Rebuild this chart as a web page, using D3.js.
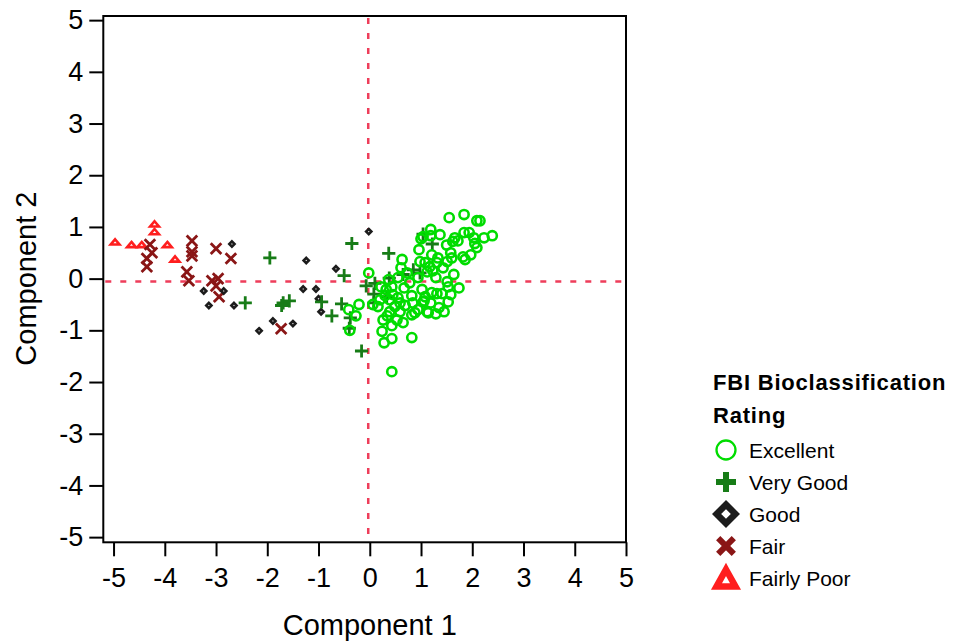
<!DOCTYPE html>
<html>
<head>
<meta charset="utf-8">
<script src="https://cdn.jsdelivr.net/npm/d3@7"></script>
<style>
  html, body { margin: 0; padding: 0; background: #fff; }
  svg { display: block; font-family: Arial, "Liberation Sans", sans-serif; }
</style>
</head>
<body>
<svg id="chart" width="953" height="644"></svg>
<script>
// Principal component scores, grouped by FBI bioclassification rating
const excellent = [
  [1.55,1.18],[1.84,1.24],[2.09,1.12],[2.15,1.12],[1.19,0.95],[1.00,0.77],[1.19,0.83],[1.37,0.85],
  [1.66,0.79],[1.72,0.73],[1.84,0.89],[1.94,0.89],[2.03,0.79],[2.05,0.68],[2.09,0.60],[2.23,0.79],
  [2.39,0.83],[1.97,0.46],[1.82,0.42],[1.86,0.37],[0.96,0.56],[1.21,0.46],[1.33,0.40],[1.31,0.31],
  [1.58,0.50],[1.60,0.40],[1.51,0.33],[1.08,0.31],[1.17,0.23],[1.12,0.13],[1.23,0.15],[1.29,0.02],
  [1.43,0.21],[1.64,0.08],[1.51,-0.06],[1.53,-0.16],[1.74,-0.18],[1.02,-0.21],[1.21,-0.27],[1.31,-0.29],
  [1.41,-0.29],[1.58,-0.31],[1.06,-0.43],[1.19,-0.47],[1.35,-0.56],[1.53,-0.45],[1.12,-0.64],[1.29,-0.68],
  [1.45,-0.64],[0.88,-0.66],[0.82,-1.14],[-0.02,0.11],[0.63,0.37],[0.61,0.21],[0.22,-0.16],[0.43,-0.16],
  [0.55,0.02],[0.73,0.11],[0.78,-0.08],[0.94,0.02],[1.08,-0.35],[1.04,-0.45],[0.45,-0.31],[0.55,-0.37],
  [0.59,-0.47],[0.49,-0.54],[0.16,-0.54],[0.06,-0.50],[0.39,-0.64],[0.82,-0.70],[0.26,-0.80],[0.53,-0.80],
  [0.65,-0.85],[0.24,-1.02],[0.43,-1.16],[0.28,-1.24],[0.43,-1.80],[1.14,-0.66],[0.98,0.33],[0.37,-0.02],
  [0.32,-0.21],[0.67,-0.18],[0.82,-0.33],[0.69,-0.52],[0.39,-0.41],[0.30,-0.33],[0.20,-0.41],[0.84,-0.47],
  [0.94,-0.60],[0.43,-0.91],[0.59,-0.64],[0.34,-0.72],[-0.41,-0.60],[-0.21,-0.50],[-0.27,-0.72],[-0.39,-1.00],
  [1.50,0.65],[1.62,0.72],[1.04,0.81]
];
const veryGood = [
  [-0.35,0.68],[-1.95,0.40],[-0.50,0.06],[-2.43,-0.47],[-1.69,-0.47],[-1.57,-0.43],[-0.94,-0.45],
  [-0.55,-0.49],[-0.74,-0.72],[-0.38,-0.76],[-0.40,-0.96],[-0.16,-1.40],[0.37,0.49],[-0.07,-0.14],
  [0.08,-0.30],[0.33,-0.35],[1.04,0.86],[1.22,0.67],[0.98,0.11],[0.65,0.08],[0.85,0.17],[0.10,-0.09],
  [0.38,0.01],[0.08,-0.47],[-1.72,-0.52]
];
const good = [
  [-2.69,0.67],[-3.24,-0.24],[-2.85,-0.24],[-3.14,-0.52],[-2.65,-0.52],[-2.16,-1.01],[-1.89,-0.82],
  [-1.50,-0.87],[-1.24,0.35],[-0.66,0.19],[-1.30,-0.20],[-1.05,-0.20],[-1.00,-0.39],[-0.95,-0.64],
  [-0.02,0.91]
];
const fair = [
  [-4.29,0.66],[-4.25,0.50],[-4.35,0.39],[-4.35,0.23],[-3.47,0.73],[-3.47,0.52],[-3.47,0.44],
  [-3.57,0.13],[-3.53,-0.04],[-3.00,0.58],[-2.71,0.39],[-3.08,-0.04],[-2.96,0.00],[-3.00,-0.14],
  [-2.94,-0.35],[-1.73,-0.97]
];
const fairlyPoor = [
  [-4.97,0.71],[-4.65,0.66],[-4.45,0.66],[-4.20,1.06],[-4.20,0.91],[-3.95,0.66],[-3.80,0.38]
];

// Reference lines (mean of each component)
const meanX = -0.03;
const meanY = -0.055;

const tickValues = [-5, -4, -3, -2, -1, 0, 1, 2, 3, 4, 5];
const ratingNames = ["Excellent", "Very Good", "Good", "Fair", "Fairly Poor"];
const legendTitle = ["FBI Bioclassification", "Rating"];
const axisTitles = { x: "Component 1", y: "Component 2" };

const svg = d3.select("#chart");
const plot = { left: 103.3, right: 626, top: 16, bottom: 542.3 };

const x = d3.scaleLinear().domain([-5.2, 5]).range([plot.left, plot.right]);
const y = d3.scaleLinear().domain([-5.1, 5.08]).range([plot.bottom, plot.top]);

// Marker shapes, centred on 0,0
const shapes = {
  circle: r => `M${-r},0a${r},${r} 0 1,0 ${2*r},0a${r},${r} 0 1,0 ${-2*r},0Z`,
  plus: s => `M${-s},0H${s}M0,${-s}V${s}`,
  cross: s => `M${-s},${-s}L${s},${s}M${-s},${s}L${s},${-s}`,
  diamond: s => `M0,${-s}L${s},0L0,${s}L${-s},0Z`,
  triangle: (w, h) => `M0,${-h}L${w},${h}L${-w},${h}Z`
};

const series = [
  { name: ratingNames[0], data: excellent, color: "#00dc00",
    plot: { d: shapes.circle(4.6), fill: "none", sw: 2.6 },
    legend: { d: shapes.circle(9.5), fill: "none", sw: 2.3 } },
  { name: ratingNames[1], data: veryGood, color: "#177c17",
    plot: { d: shapes.plus(6.6), fill: "none", sw: 2.8 },
    legend: { d: shapes.plus(10), fill: "none", sw: 6 } },
  { name: ratingNames[2], data: good, color: "#1c1c1c",
    plot: { d: shapes.diamond(2.6), fill: "#fff", sw: 2.6 },
    legend: { d: shapes.diamond(9.4), fill: "#fff", sw: 6.5 } },
  { name: ratingNames[3], data: fair, color: "#8a1616",
    plot: { d: shapes.cross(5.3), fill: "none", sw: 2.8 },
    legend: { d: shapes.cross(7.8), fill: "none", sw: 6 } },
  { name: ratingNames[4], data: fairlyPoor, color: "#ff1e1e",
    plot: { d: shapes.triangle(4.4, 2.6), fill: "#fff", sw: 2.6 },
    legend: { d: shapes.triangle(9.5, 8.5), fill: "#fff", sw: 6.5 } }
];

// Mean reference lines
const refColor = "#ee3d5a";
svg.append("line")
  .attr("x1", plot.left + 2).attr("x2", plot.right)
  .attr("y1", y(meanY)).attr("y2", y(meanY))
  .attr("stroke", refColor).attr("stroke-width", 2.5).attr("stroke-dasharray", "6,9");
svg.append("line")
  .attr("x1", x(meanX)).attr("x2", x(meanX))
  .attr("y1", plot.top + 2).attr("y2", plot.bottom)
  .attr("stroke", refColor).attr("stroke-width", 2.5).attr("stroke-dasharray", "6,9");

// Points, drawn from the last rating to the first
const marks = svg.append("g");
series.slice().reverse().forEach(s => {
  marks.append("g")
    .selectAll("path")
    .data(s.data)
    .join("path")
    .attr("transform", d => `translate(${x(d[0])},${y(d[1])})`)
    .attr("d", s.plot.d)
    .attr("fill", s.plot.fill)
    .attr("stroke", s.color)
    .attr("stroke-width", s.plot.sw)
    .attr("stroke-linejoin", "miter");
});

// Frame
svg.append("rect")
  .attr("x", plot.left).attr("y", plot.top)
  .attr("width", plot.right - plot.left).attr("height", plot.bottom - plot.top)
  .attr("fill", "none").attr("stroke", "#000").attr("stroke-width", 2);

// Axes
const xAxis = svg.append("g")
  .attr("transform", `translate(0,${plot.bottom})`)
  .call(d3.axisBottom(x).tickValues(tickValues).tickSize(14).tickPadding(12).tickFormat(d => String(d)));
const yAxis = svg.append("g")
  .attr("transform", `translate(${plot.left},0)`)
  .call(d3.axisLeft(y).tickValues(tickValues).tickSize(14).tickPadding(6).tickFormat(d => String(d)));
[xAxis, yAxis].forEach(g => {
  g.select(".domain").remove();
  g.selectAll(".tick line").attr("stroke", "#000").attr("stroke-width", 2);
  g.selectAll(".tick text")
    .attr("fill", "#000")
    .style("font-family", "Arial, 'Liberation Sans', sans-serif")
    .style("font-size", "27px");
});

// Axis titles
svg.append("text")
  .attr("x", x(0)).attr("y", 635)
  .attr("text-anchor", "middle")
  .style("font-size", "29px")
  .text(axisTitles.x);
svg.append("text")
  .attr("transform", `translate(36,${y(0)}) rotate(-90)`)
  .attr("text-anchor", "middle")
  .style("font-size", "29px")
  .text(axisTitles.y);

// Legend
const legend = svg.append("g");
legendTitle.forEach((t, i) => {
  legend.append("text")
    .attr("x", 713).attr("y", 390 + i * 33)
    .style("font-size", "22px").style("font-weight", "bold")
    .style("letter-spacing", "0.8px")
    .text(t);
});
const rows = legend.selectAll("g.row")
  .data(series)
  .join("g")
  .attr("class", "row")
  .attr("transform", (d, i) => `translate(726,${450 + i * 32})`);
rows.append("path")
  .attr("d", d => d.legend.d)
  .attr("fill", d => d.legend.fill)
  .attr("stroke", d => d.color)
  .attr("stroke-width", d => d.legend.sw)
  .attr("stroke-linejoin", "miter");
rows.append("text")
  .attr("x", 23).attr("y", 7.5)
  .style("font-size", "21px")
  .text(d => d.name);
</script>
</body>
</html>
